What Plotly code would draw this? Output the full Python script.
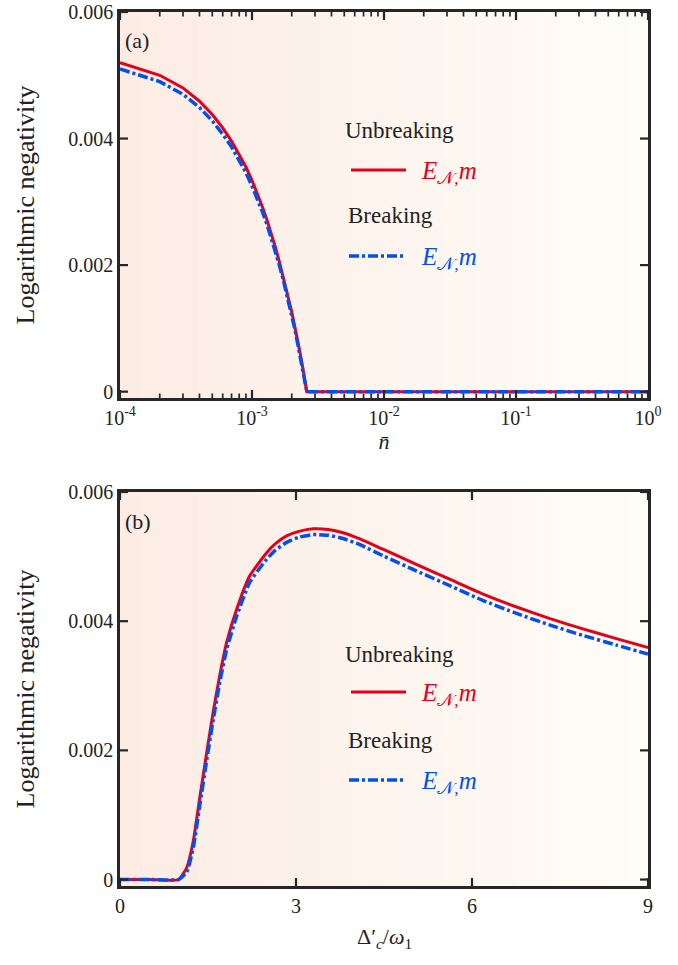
import math
import plotly.graph_objects as go

# ---- panel (a): logarithmic negativity vs mean thermal occupation ----
nbar = [0.0001, 0.0002, 0.0003, 0.0004, 0.0005, 0.0006, 0.0007, 0.0008, 0.0009, 0.0010,
        0.0011, 0.0012, 0.0013, 0.0014, 0.0015, 0.0016, 0.0017, 0.0018, 0.0019, 0.0020,
        0.0021, 0.0022, 0.0023, 0.0024, 0.0025, 0.0026, 0.003, 0.01, 0.1, 1.0]
en_unbreaking_a = [0.00520, 0.00500, 0.00480, 0.00459, 0.00438, 0.00417, 0.00396, 0.00375, 0.00355, 0.00334,
                   0.00313, 0.00292, 0.00271, 0.00250, 0.00229, 0.00208, 0.00187, 0.00166, 0.00145, 0.00126,
                   0.00106, 0.00085, 0.00064, 0.00043, 0.00021, 0.0, 0.0, 0.0, 0.0, 0.0]
en_breaking_a = [0.00510, 0.00490, 0.00470, 0.00449, 0.00428, 0.00407, 0.00387, 0.00366, 0.00346, 0.00325,
                 0.00305, 0.00284, 0.00264, 0.00243, 0.00223, 0.00202, 0.00182, 0.00161, 0.00141, 0.00121,
                 0.00101, 0.00080, 0.00060, 0.00039, 0.00018, 0.0, 0.0, 0.0, 0.0, 0.0]

# ---- panel (b): logarithmic negativity vs effective cavity detuning ----
detuning = [0, 0.5, 1.0, 1.14, 1.25, 1.36, 1.48, 1.59, 1.70, 1.82, 1.99, 2.21, 2.50, 2.65,
            2.84, 3.05, 3.29, 3.55, 3.80, 4.10, 4.49, 5.05, 5.62, 6.19, 6.76, 7.33, 7.89, 8.46, 9.0]
en_unbreaking_b = [0, 0, 0, 0.00019, 0.00060, 0.00127, 0.00198, 0.00260, 0.00316, 0.00368, 0.00419, 0.00470,
                   0.00506, 0.00520, 0.00532, 0.00539, 0.00543, 0.00542, 0.00537, 0.00527, 0.00511, 0.00488,
                   0.00465, 0.00442, 0.00422, 0.00404, 0.00388, 0.00373, 0.00359]
en_breaking_b = [0, 0, 0, 0.00012, 0.00050, 0.00115, 0.00186, 0.00248, 0.00305, 0.00357, 0.00408, 0.00460,
                 0.00496, 0.00510, 0.00522, 0.00530, 0.00534, 0.00533, 0.00528, 0.00518, 0.00501, 0.00478,
                 0.00455, 0.00432, 0.00412, 0.00394, 0.00378, 0.00363, 0.00349]

y_ticks = [0, 0.002, 0.004, 0.006]
y_ticktext = ["0", "0.002", "0.004", "0.006"]
log_ticks = [1e-4, 1e-3, 1e-2, 1e-1, 1e0]
log_ticktext = ["10<sup>-4</sup>", "10<sup>-3</sup>", "10<sup>-2</sup>", "10<sup>-1</sup>", "10<sup>0</sup>"]
log_minor = [m * 10.0 ** e for e in range(-4, 0) for m in range(2, 10)]
lin_ticks = [0, 3, 6, 9]

RED = "#e5001a"
BLUE = "#0050ee"
INK = "#262626"
TXT = "#222222"
FONT = "Liberation Serif"
W, H = 678, 965

# axis ranges
XA_RANGE = (-4.0, 0.0)        # log10 of n-bar
XB_RANGE = (0.0, 9.0)
Y_RANGE = (-0.0001, 0.006)

# plot-area geometry in pixels
X0, X1 = 120, 648
A_TOP, A_BOT = 12, 398
B_TOP, B_BOT = 492, 886
MAJOR_LEN, MINOR_LEN = 8, 4.5


def px_x(p):
    return p / W


def px_y(p):
    return 1 - p / H


fig = go.Figure()
dash_pattern = "10px,3px,3px,3px"

fig.add_trace(go.Scatter(x=nbar, y=en_unbreaking_a, mode="lines", xaxis="x", yaxis="y",
                         line=dict(color=RED, width=3), showlegend=False))
fig.add_trace(go.Scatter(x=nbar, y=en_breaking_a, mode="lines", xaxis="x", yaxis="y",
                         line=dict(color=BLUE, width=3.5, dash=dash_pattern), showlegend=False))
fig.add_trace(go.Scatter(x=detuning, y=en_unbreaking_b, mode="lines", xaxis="x2", yaxis="y2",
                         line=dict(color=RED, width=3, shape="spline", smoothing=0.5), showlegend=False))
fig.add_trace(go.Scatter(x=detuning, y=en_breaking_b, mode="lines", xaxis="x2", yaxis="y2",
                         line=dict(color=BLUE, width=3.5, dash=dash_pattern, shape="spline", smoothing=0.5),
                         showlegend=False))


# frame-style tick marks pointing into the plot on all four sides, drawn in axis units
def tick_segments(xvals, yvals, x_is_log, x_rng, y_rng, panel_h, length):
    dxr = (x_rng[1] - x_rng[0]) * length / (X1 - X0)
    dy = (y_rng[1] - y_rng[0]) * length / panel_h

    def xval(r):
        return 10.0 ** r if x_is_log else r

    xs, ys = [], []
    for v in xvals:
        xs += [v, v, None, v, v, None]
        ys += [y_rng[0], y_rng[0] + dy, None, y_rng[1], y_rng[1] - dy, None]
    for v in yvals:
        xs += [xval(x_rng[0]), xval(x_rng[0] + dxr), None, xval(x_rng[1]), xval(x_rng[1] - dxr), None]
        ys += [v, v, None, v, v, None]
    return xs, ys


tick_sets = [
    ("x", "y", log_ticks, y_ticks, True, XA_RANGE, A_BOT - A_TOP, MAJOR_LEN, 2.2),
    ("x", "y", log_minor, [], True, XA_RANGE, A_BOT - A_TOP, MINOR_LEN, 1.7),
    ("x2", "y2", lin_ticks, y_ticks, False, XB_RANGE, B_BOT - B_TOP, MAJOR_LEN, 2.2),
]
for xa, ya, xv, yv, is_log, xr, ph, ln, wd in tick_sets:
    xs, ys = tick_segments(xv, yv, is_log, xr, Y_RANGE, ph, ln)
    fig.add_trace(go.Scatter(x=xs, y=ys, mode="lines", xaxis=xa, yaxis=ya, cliponaxis=False,
                             line=dict(color=INK, width=wd), hoverinfo="skip", showlegend=False))

axis_common = dict(
    showline=True, mirror=True, linecolor=INK, linewidth=2.5,
    ticks="", showgrid=False, zeroline=False, automargin=False,
    tickfont=dict(family=FONT, size=20, color=TXT),
)

fig.update_layout(
    width=W, height=H,
    margin=dict(l=0, r=0, t=0, b=0),
    paper_bgcolor="white", plot_bgcolor="white",
    font=dict(family=FONT, color=TXT),
    xaxis=dict(axis_common, type="log", domain=[px_x(X0), px_x(X1)], anchor="y",
               range=list(XA_RANGE), tickmode="array", tickvals=log_ticks, ticktext=log_ticktext,
               title=dict(text="<i>n̄</i>", font=dict(family=FONT, size=22, color=TXT), standoff=4)),
    yaxis=dict(axis_common, domain=[px_y(A_BOT), px_y(A_TOP)], anchor="x",
               range=list(Y_RANGE), tickmode="array", tickvals=y_ticks, ticktext=y_ticktext,
               title=dict(text="Logarithmic negativity", font=dict(family=FONT, size=26, color=TXT),
                          standoff=27)),
    xaxis2=dict(axis_common, domain=[px_x(X0), px_x(X1)], anchor="y2",
                range=list(XB_RANGE), tickmode="array", tickvals=lin_ticks),
    yaxis2=dict(axis_common, domain=[px_y(B_BOT), px_y(B_TOP)], anchor="x2",
                range=list(Y_RANGE), tickmode="array", tickvals=y_ticks, ticktext=y_ticktext,
                title=dict(text="Logarithmic negativity", font=dict(family=FONT, size=26, color=TXT),
                           standoff=27)),
)

shapes = []

# soft horizontal colour wash behind each panel
n_strips = 80
c_left = (252, 236, 228)
c_right = (254, 253, 247)
for top, bot in ((A_TOP, A_BOT), (B_TOP, B_BOT)):
    for i in range(n_strips):
        t = i / (n_strips - 1)
        r = round(c_left[0] + (c_right[0] - c_left[0]) * t)
        g = round(c_left[1] + (c_right[1] - c_left[1]) * t)
        b = round(c_left[2] + (c_right[2] - c_left[2]) * t)
        xa = X0 + (X1 - X0) * i / n_strips
        xb = X0 + (X1 - X0) * (i + 1) / n_strips + 0.5
        shapes.append(dict(type="rect", xref="paper", yref="paper", layer="below",
                           x0=px_x(xa), x1=px_x(min(xb, X1)), y0=px_y(bot), y1=px_y(top),
                           fillcolor=f"rgb({r},{g},{b})", line=dict(width=0)))

# legend keys
label_en = "<i>E</i><sub>𝒩,</sub><i>m</i>"
annotations = []
for (y_unb, y_red, y_brk, y_blue) in ((130, 170, 215, 256), (654, 692, 740, 780)):
    shapes.append(dict(type="line", xref="paper", yref="paper", x0=px_x(351), x1=px_x(406),
                       y0=px_y(y_red), y1=px_y(y_red), line=dict(color=RED, width=3)))
    shapes.append(dict(type="line", xref="paper", yref="paper", x0=px_x(349), x1=px_x(404),
                       y0=px_y(y_blue), y1=px_y(y_blue), line=dict(color=BLUE, width=3.5, dash=dash_pattern)))
    annotations += [
        dict(text="Unbreaking", x=px_x(343), y=px_y(y_unb), xanchor="left", yanchor="middle",
             font=dict(family=FONT, size=23, color=TXT)),
        dict(text="Breaking", x=px_x(346), y=px_y(y_brk), xanchor="left", yanchor="middle",
             font=dict(family=FONT, size=23, color=TXT)),
        dict(text=label_en, x=px_x(419), y=px_y(y_red + 2), xanchor="left", yanchor="middle",
             font=dict(family=FONT, size=25, color=RED)),
        dict(text=label_en, x=px_x(419), y=px_y(y_blue + 2), xanchor="left", yanchor="middle",
             font=dict(family=FONT, size=25, color=BLUE)),
    ]

annotations += [
    dict(text="(a)", x=px_x(123), y=px_y(40), xanchor="left", yanchor="middle",
         font=dict(family=FONT, size=22, color=TXT)),
    dict(text="(b)", x=px_x(123), y=px_y(521), xanchor="left", yanchor="middle",
         font=dict(family=FONT, size=22, color=TXT)),
    # x-axis title of panel (b)
    dict(text="Δ′<sub><i>c</i></sub>/<i>ω</i><sub>1</sub>", x=(px_x(X0) + px_x(X1)) / 2, y=px_y(938),
         xanchor="center", yanchor="middle", font=dict(family=FONT, size=22, color=TXT)),
]
for a in annotations:
    a.update(xref="paper", yref="paper", showarrow=False)

fig.update_layout(shapes=shapes, annotations=annotations)

fig.write_html("out.html")
